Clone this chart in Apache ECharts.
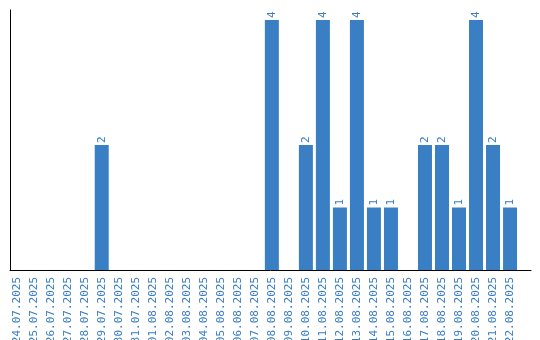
<!DOCTYPE html>
<html><head><meta charset="utf-8">
<script src="https://cdn.jsdelivr.net/npm/echarts@6/dist/echarts.min.js"></script>
<style>html,body{margin:0;padding:0;background:#fff}#c{width:540px;height:340px}</style>
</head><body><div id="c"></div>
<script>
const categories = ["24.07.2025","25.07.2025","26.07.2025","27.07.2025","28.07.2025","29.07.2025","30.07.2025","31.07.2025","01.08.2025","02.08.2025","03.08.2025","04.08.2025","05.08.2025","06.08.2025","07.08.2025","08.08.2025","09.08.2025","10.08.2025","11.08.2025","12.08.2025","13.08.2025","14.08.2025","15.08.2025","16.08.2025","17.08.2025","18.08.2025","19.08.2025","20.08.2025","21.08.2025","22.08.2025"];
const counts = [0,0,0,0,0,2,0,0,0,0,0,0,0,0,0,4,0,2,4,1,4,1,1,0,2,2,1,4,2,1];

const blue = '#3a7ec3';
const chart = echarts.init(document.getElementById('c'), null, {renderer:'canvas'});
chart.setOption({
  animation:false,
  grid:[
    {left:8.15, width:510.4, top:10, bottom:70, containLabel:false, outerBoundsMode:'none'},
    {left:10, right:9, top:10, bottom:70, containLabel:false, outerBoundsMode:'none'}
  ],
  xAxis:[
    {type:'category', gridIndex:0, data:categories, boundaryGap:true,
     axisLine:{show:false}, axisTick:{show:false},
     axisLabel:{rotate:90, interval:0, color:blue, fontFamily:'DejaVu Sans Mono', fontSize:11, margin:7}},
    {type:'value', gridIndex:1, min:0, max:1, axisLine:{show:true, lineStyle:{color:'#000', width:1}},
     axisTick:{show:false}, axisLabel:{show:false}, splitLine:{show:false}}
  ],
  yAxis:[
    {type:'value', gridIndex:0, min:0, max:4.16, axisLine:{show:false}, axisTick:{show:false}, axisLabel:{show:false}, splitLine:{show:false}},
    {type:'value', gridIndex:1, min:0, max:1, axisLine:{show:true, lineStyle:{color:'#000', width:1}},
     axisTick:{show:false}, axisLabel:{show:false}, splitLine:{show:false}}
  ],
  series:[{
    type:'bar', xAxisIndex:0, yAxisIndex:0, data:counts, barWidth:14,
    itemStyle:{color:blue},
    label:{show:true, position:'top', rotate:90, align:'left', verticalAlign:'middle', distance:2,
      color:blue, fontFamily:'DejaVu Sans Mono', fontSize:11,
      formatter:p=>p.value>0?String(p.value):''}
  }]
});
</script></body></html>
